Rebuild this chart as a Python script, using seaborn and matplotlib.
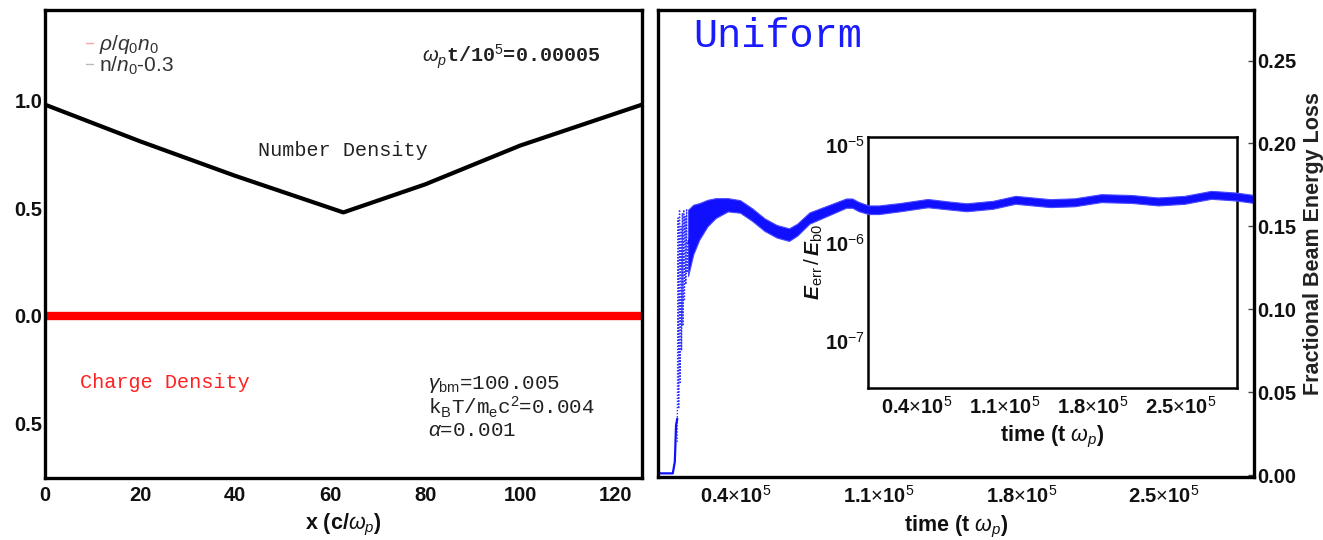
import matplotlib
matplotlib.use("Agg")
import matplotlib.pyplot as plt
import numpy as np
import pandas as pd
import seaborn as sns
from matplotlib.lines import Line2D

# ---------------- data ----------------
# Left panel: density profiles across the simulation box (x in c/omega_p)
x_pos = [0.0, 20.0, 40.0, 62.8, 80.0, 100.0, 125.66]
number_density = [0.98, 0.81, 0.65, 0.48, 0.61, 0.79, 0.98]   # n/n0 - 0.3
charge_x = [0.0, 125.66]
charge_density = [0.0, 0.0]                                     # rho/q0n0

left_xticks = [0, 20, 40, 60, 80, 100, 120]
left_yticks = [-0.5, 0.0, 0.5, 1.0]
left_yticklabels = ["0.5", "0.0", "0.5", "1.0"]

# Right panel: fractional beam energy loss vs time (time in units of 1e5/omega_p)
onset_t = [0.0175, 0.060, 0.090, 0.100, 0.106, 0.112]
onset_loss = [0.001, 0.001, 0.001, 0.008, 0.030, 0.034]

burst_t = [0.112, 0.116, 0.119, 0.123, 0.126, 0.130, 0.133, 0.137, 0.140,
           0.144, 0.147, 0.151, 0.154, 0.158, 0.161, 0.165]
burst_loss = [0.020, 0.155, 0.040, 0.160, 0.055, 0.150, 0.075, 0.158, 0.090,
              0.160, 0.105, 0.156, 0.115, 0.160, 0.122, 0.140]

band_t = [0.165, 0.19, 0.22, 0.26, 0.30, 0.36, 0.42, 0.48, 0.54, 0.60, 0.66,
          0.70, 0.76, 0.82, 0.88, 0.94, 0.97, 1.00, 1.05, 1.10, 1.20, 1.34,
          1.45, 1.53, 1.66, 1.77, 1.94, 2.06, 2.19, 2.34, 2.47, 2.60, 2.73,
          2.85, 2.94]
band_mid = [0.140, 0.148, 0.153, 0.158, 0.161, 0.163, 0.162, 0.157, 0.151,
            0.147, 0.145, 0.148, 0.155, 0.158, 0.161, 0.164, 0.164, 0.162,
            0.160, 0.160, 0.1615, 0.164, 0.1625, 0.1615, 0.163, 0.166, 0.164,
            0.1645, 0.167, 0.1665, 0.165, 0.166, 0.169, 0.168, 0.1665]
band_half = [0.020, 0.015, 0.011, 0.008, 0.006, 0.0040, 0.0038, 0.0038,
             0.0038, 0.0038, 0.0038, 0.0036, 0.0034, 0.0032, 0.0030, 0.0028,
             0.0028, 0.0028, 0.0026, 0.0026, 0.0025, 0.0025, 0.0024, 0.0024,
             0.0024, 0.0024, 0.0024, 0.0024, 0.0024, 0.0024, 0.0024, 0.0024,
             0.0024, 0.0024, 0.0024]

time_ticks = [0.4, 1.1, 1.8, 2.5]
time_ticklabels = [r"0.4$\times$10$^5$", r"1.1$\times$10$^5$",
                   r"1.8$\times$10$^5$", r"2.5$\times$10$^5$"]
loss_ticks = [0.00, 0.05, 0.10, 0.15, 0.20, 0.25]
loss_ticklabels = ["0.00", "0.05", "0.10", "0.15", "0.20", "0.25"]
err_ticks = [1e-7, 1e-6, 1e-5]
err_ticklabels = [r"10$^{-7}$", r"10$^{-6}$", r"10$^{-5}$"]

# ---------------- style ----------------
sns.set_theme(style="white")
plt.rcParams["font.family"] = ["Liberation Sans", "DejaVu Sans"]
plt.rcParams["mathtext.fontset"] = "custom"
plt.rcParams["mathtext.rm"] = "Liberation Sans"
plt.rcParams["mathtext.it"] = "Liberation Sans:italic"
plt.rcParams["mathtext.bf"] = "Liberation Sans:bold:italic"

W, H = 1323, 540
fig = plt.figure(figsize=(W / 100, H / 100), dpi=100)
fig.patch.set_facecolor("white")


def frame(px_left, px_top, px_right, px_bottom):
    return [px_left / W, 1 - px_bottom / H, (px_right - px_left) / W,
            (px_bottom - px_top) / H]


MONO = "Liberation Mono"
tick_font = dict(fontsize=14.5, fontweight="bold", color="#111111")
label_font = dict(fontsize=15.5, fontweight="bold", color="#111111")

# ---------------- left panel ----------------
ax1 = fig.add_axes(frame(45, 10, 642, 478))
df_n = pd.DataFrame({"x": x_pos, "n": number_density})
df_q = pd.DataFrame({"x": charge_x, "q": charge_density})
sns.lineplot(data=df_q, x="x", y="q", ax=ax1, color="#ff0000", lw=6.0,
             solid_capstyle="butt")
sns.lineplot(data=df_n, x="x", y="n", ax=ax1, color="black", lw=3.0)
ax1.set_xlim(0, 125.66)
ax1.set_ylim(-0.752, 1.419)
ax1.set_xticks(left_xticks)
ax1.set_xticklabels([str(v) for v in left_xticks], **tick_font)
ax1.set_yticks(left_yticks)
ax1.set_yticklabels(left_yticklabels, **tick_font)
ax1.tick_params(direction="in", length=4, width=1, color="#444444")
ax1.tick_params(axis="x", pad=6)
ax1.tick_params(axis="y", pad=2)
ax1.set_xlabel(r"x (c/$\omega_p$)", labelpad=5, **label_font)
ax1.set_ylabel("")
for s in ax1.spines.values():
    s.set_linewidth(2.4)
    s.set_color("black")

handles = [Line2D([], [], color="#f5a5a5", lw=1.0),
           Line2D([], [], color="#bbbbbb", lw=1.0)]
ax1.legend(handles, [r"$\rho/q_0n_0$", r"n/$n_0$-0.3"],
           loc="upper left", bbox_to_anchor=(0.068, 0.950), frameon=False,
           handlelength=0.35, handletextpad=0.3, labelspacing=-0.1,
           borderpad=0, borderaxespad=0, fontsize=15, labelcolor="#333333")

ax1.text(0.499, 0.700, "Number Density", transform=ax1.transAxes,
         family=MONO, fontsize=14.5, color="#222222", ha="center", va="center")
ax1.text(0.631, 0.899, r"$\omega_p$t/10$^5$=0.00005", transform=ax1.transAxes,
         family=MONO, fontsize=14.5, color="#222222", ha="left", va="center",
         fontweight="bold")
ax1.text(0.058, 0.203, "Charge Density", transform=ax1.transAxes,
         family=MONO, fontsize=14.5, color="#ff2020", ha="left", va="center")
for yf, s in [(0.2007, r"$\gamma_{\rm bm}$=100.005"),
              (0.1516, r"k$_{\rm B}$T/m$_{\rm e}$c$^2$=0.004"),
              (0.1025, r"$\alpha$=0.001")]:
    ax1.text(0.6415, yf, s, transform=ax1.transAxes, family=MONO,
             fontsize=15, color="#222222", ha="left", va="center")

# ---------------- right panel (inset underneath, transparent) ----------------
ins = fig.add_axes(frame(868, 137, 1237, 388))
ins.set_facecolor("none")
ins.set_xlim(0.013, 2.945)
ins.set_yscale("log")
ins.set_ylim(10 ** -7.48, 10 ** -4.92)
ins.set_xticks(time_ticks)
ins.set_xticklabels(time_ticklabels, **tick_font)
ins.set_yticks(err_ticks)
ins.set_yticklabels(err_ticklabels, **tick_font)
ins.yaxis.set_minor_locator(matplotlib.ticker.NullLocator())
ins.tick_params(direction="in", length=4, width=1, color="#444444")
ins.tick_params(axis="x", pad=6)
ins.tick_params(axis="y", pad=2)
ins.set_xlabel(r"time (t $\omega_p$)", labelpad=4, **label_font)
ins.set_ylabel(r"$\mathbf{E}_{\rm err}\,/\,\mathbf{E}_{\rm b0}$", fontsize=15,
               color="#111111", labelpad=0)
for s in ins.spines.values():
    s.set_linewidth(1.8)
    s.set_color("black")

ax2 = fig.add_axes(frame(658, 10, 1254, 477))
ax2.set_facecolor("none")
blue = "#1010ff"
df_on = pd.DataFrame({"t": onset_t, "loss": onset_loss})
df_burst = pd.DataFrame({"t": burst_t, "loss": burst_loss})
df_band = pd.DataFrame({"t": band_t, "mid": band_mid, "half": band_half})
sns.lineplot(data=df_on, x="t", y="loss", ax=ax2, color=blue, lw=1.6)
sns.lineplot(data=df_burst, x="t", y="loss", ax=ax2, color=blue, lw=1.0,
             linestyle=(0, (1, 1.2)), alpha=0.85)
ax2.fill_between(df_band["t"], df_band["mid"] - df_band["half"],
                 df_band["mid"] + df_band["half"], color=blue, lw=0.8,
                 edgecolor="#4a4aff")
sns.lineplot(data=df_band, x="t", y="mid", ax=ax2, color=blue, lw=1.2)
ax2.set_xlim(0.0175, 2.94)
ax2.set_ylim(-0.0012, 0.2805)
ax2.yaxis.tick_right()
ax2.yaxis.set_label_position("right")
ax2.set_xticks(time_ticks)
ax2.set_xticklabels(time_ticklabels, **tick_font)
ax2.set_yticks(loss_ticks)
ax2.set_yticklabels(loss_ticklabels, **tick_font)
ax2.tick_params(direction="in", length=4, width=1, color="#444444")
ax2.tick_params(axis="x", pad=6)
ax2.tick_params(axis="y", pad=2)
ax2.set_xlabel(r"time (t $\omega_p$)", labelpad=5, **label_font)
ax2.set_ylabel("Fractional Beam Energy Loss", fontsize=15.5,
               fontweight="bold", color="#222222", labelpad=5)
for s in ax2.spines.values():
    s.set_linewidth(2.4)
    s.set_color("black")
ax2.text(0.0587, 0.9435, "Uniform", transform=ax2.transAxes, family=MONO,
         fontsize=29, color="#1a1aff", ha="left", va="center")

fig.savefig("out.png", dpi=100, facecolor="white")
